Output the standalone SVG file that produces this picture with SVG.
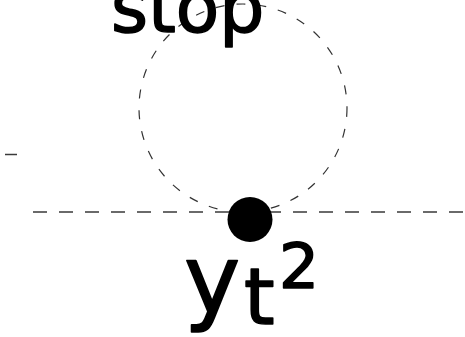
<svg xmlns="http://www.w3.org/2000/svg" width="465" height="337" viewBox="0 0 465 337">
<style>
.lbl{font-family:"DejaVu Sans","Liberation Sans",sans-serif;fill:#000;stroke:#000;stroke-width:1.6;stroke-linejoin:round}
.dash{fill:none;stroke:#3a3a3a;stroke-width:1.5;stroke-dasharray:14 12}
.circ{fill:none;stroke:#333;stroke-width:1.2;stroke-dasharray:9 12}
</style>
<rect width="465" height="337" fill="#fff"/>
<g id="connectors">
<line class="dash" x1="33" y1="212" x2="465" y2="212"/>
<line x1="5" y1="154.5" x2="17" y2="154.5" stroke="#3a3a3a" stroke-width="1.5"/>
<circle class="circ" cx="243" cy="108" r="104"/>
</g>
<g id="stop">
<text class="lbl" x="111" y="32" font-size="71">stop</text>
</g>
<g id="y">
<circle cx="250" cy="219.5" r="22.5" fill="#000"/>
<text class="lbl" x="184" y="312" font-size="95">y</text>
<text class="lbl" x="244" y="324" font-size="78">t</text>
<text class="lbl" x="279" y="288" font-size="63">2</text>
</g>
</svg>
